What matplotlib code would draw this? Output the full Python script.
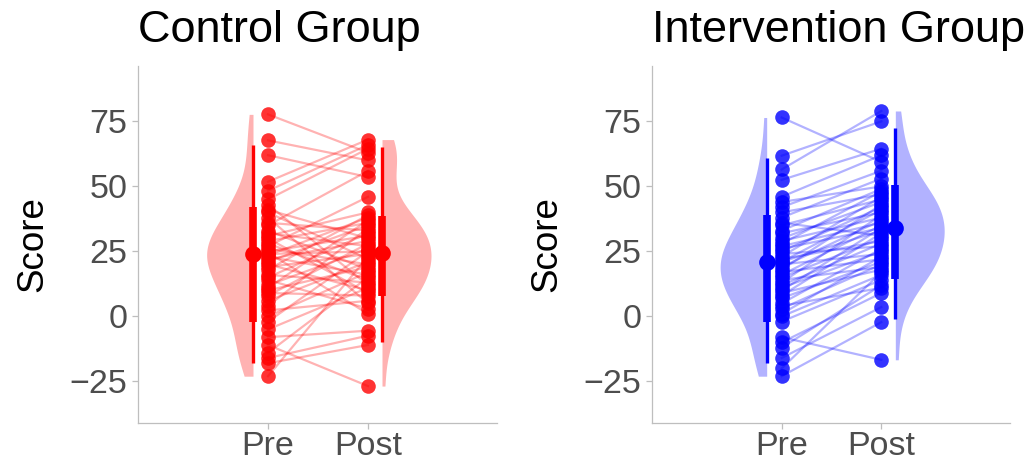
import numpy as np
import matplotlib
matplotlib.use("Agg")
import matplotlib.pyplot as plt

plt.rcParams['font.family'] = ['Liberation Sans', 'DejaVu Sans']

# paired scores (pre[i] -> post[i])
ctrl_pre = [77.7, 67.7, 62, 51.8, 48.3, 45, 43, 41, 40, 38, 36, 35, 33, 32, 31, 30, 29, 28, 27, 26,
            25, 24.5, 24, 23.5, 23, 22, 21, 20, 19, 18, 16, 15, 14, 12, 11, 10, 9, 8, 6, 4,
            2.3, 0, -2, -5, -8, -11, -14, -16, -18, -23]
ctrl_post = [63, 60, 53.6, 68, 66, 64.5, 12, 30, 22, 5, 33, 56, 18, 27, 40, 9, 36, 14, 46, 20,
             31, 1, 25, 38, 16, 29, 35, 10, 24, 39, 13, 32, 3, 26, 37, 19, 8, 28, 21, 34,
             6, 17, 25, 11, -5.5, -26.8, 15, -7.4, -11, 23]

int_pre = [76.5, 61.8, 56.5, 52.5, 46, 44, 42, 40, 38, 36, 35, 33, 32, 30, 29, 28, 27, 26, 25, 24,
           23, 22, 21, 21, 20, 19, 18, 17, 16, 15, 14, 13, 12, 11, 10, 9, 8, 7, 5, 4,
           3, 1, 0, -2, -8, -10, -12, -16, -20, -23]
int_post = [59.4, 75, 79, 64.5, 62, 50, 56, 47, 53, 31, 45, 49, 40, 44, 38, 48, 36, 34, 42, 27,
            46, 29, 41, 33, 24, 37, 43, 22, 35, 30, 19, 39, 28, 25, 34, 18, 32, 21, 26, 11,
            20, 23, 16, 14, -16.7, 9, 12, 3.6, 17, -2.2]

# interval summaries: lo95, lo66, median, hi66, hi95
ctrl_pre_iv = [-17.8, -2.2, 24, 42, 66]
ctrl_post_iv = [-10, 8, 24.5, 38.5, 65]
int_pre_iv = [-18, -2, 21, 39, 61]
int_post_iv = [-1, 14.4, 34, 50.5, 72.6]

time_labels = ['Pre', 'Post']
titles = ['Control Group', 'Intervention Group']
colors = ['#FF0000', '#0000FF']


def kde(vals, grid):
    vals = np.asarray(vals, float)
    n = len(vals)
    iqr = np.subtract(*np.percentile(vals, [75, 25]))
    bw = 1.15 * 0.9 * min(vals.std(ddof=1), iqr / 1.34) * n ** -0.2
    z = (grid[:, None] - vals[None, :]) / bw
    return np.exp(-0.5 * z ** 2).sum(axis=1) / (n * bw * np.sqrt(2 * np.pi))


def draw_panel(ax, pre, post, pre_iv, post_iv, color, title):
    # half violins
    grids, dens = [], []
    for v in (pre, post):
        g = np.linspace(min(v), max(v), 200)
        grids.append(g)
        dens.append(kde(v, g))
    dmax = max(d.max() for d in dens)
    w = 0.49
    ax.fill_betweenx(grids[0], 0.85 - dens[0] / dmax * w, 0.85, color=color, alpha=0.3, lw=0, zorder=1)
    ax.fill_betweenx(grids[1], 2.14, 2.14 + dens[1] / dmax * w, color=color, alpha=0.3, lw=0, zorder=1)

    # paired lines and points
    for a, b in zip(pre, post):
        ax.plot([1, 2], [a, b], color=color, alpha=0.3, lw=1.6, zorder=2)
    ax.plot(np.ones(len(pre)), pre, 'o', color=color, alpha=0.8, ms=10.5, mec='none', zorder=3)
    ax.plot(np.full(len(post), 2), post, 'o', color=color, alpha=0.8, ms=10.5, mec='none', zorder=3)

    # point intervals
    for x, iv in ((0.85, pre_iv), (2.14, post_iv)):
        ax.plot([x, x], [iv[0], iv[4]], color=color, lw=2.4, solid_capstyle='butt', zorder=4)
        ax.plot([x, x], [iv[1], iv[3]], color=color, lw=5.5, solid_capstyle='butt', zorder=4)
        ax.plot(x, iv[2], 'o', color=color, ms=12, mec='none', zorder=5)

    ax.set_xlim(-0.3, 3.29)
    ax.set_ylim(-41, 96.3)
    ax.set_xticks([1, 2])
    ax.set_xticklabels(time_labels)
    ax.set_yticks([-25, 0, 25, 50, 75])
    ax.set_yticklabels(['\u221225', '0', '25', '50', '75'])
    ax.set_ylabel('Score', fontsize=26.5, labelpad=14)
    ax.set_title(title, loc='left', fontsize=32.5, pad=17)
    for s in ('top', 'right'):
        ax.spines[s].set_visible(False)
    for s in ('left', 'bottom'):
        ax.spines[s].set_color('#BEBEBE')
        ax.spines[s].set_linewidth(0.9)
    ax.tick_params(colors='#BEBEBE', labelcolor='#4D4D4D', labelsize=24.5, length=4, width=0.9)
    ax.tick_params(axis='x', pad=1.5)
    ax.tick_params(axis='y', pad=3.5)


fig = plt.figure(figsize=(10.33, 4.68), dpi=100)
ax1 = fig.add_axes([138 / 1033, 45 / 468, 359 / 1033, 357 / 468])
ax2 = fig.add_axes([652 / 1033, 45 / 468, 358 / 1033, 357 / 468])

draw_panel(ax1, ctrl_pre, ctrl_post, ctrl_pre_iv, ctrl_post_iv, colors[0], titles[0])
draw_panel(ax2, int_pre, int_post, int_pre_iv, int_post_iv, colors[1], titles[1])

fig.savefig('out.png', dpi=100)
